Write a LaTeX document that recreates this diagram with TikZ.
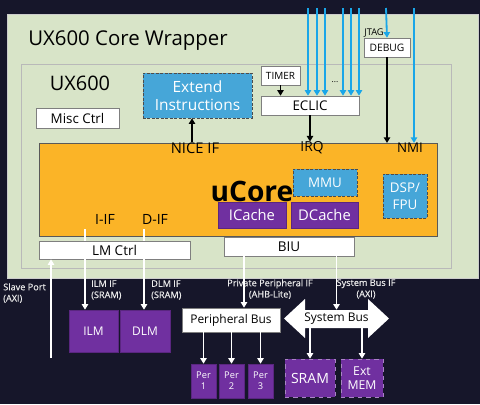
\documentclass[tikz,border=0pt]{standalone}
\usepackage{fontspec}
\setmainfont{Open Sans}
\newfontfamily\uxnotefont{Open Sans}[FakeBold=0.4]
\usepackage{tikz}
\usetikzlibrary{arrows.meta, calc}
\definecolor{uxnavy}{HTML}{16162A}
\definecolor{uxgreen}{HTML}{D8E4C8}
\definecolor{uxorange}{HTML}{FBB427}
\definecolor{uxpurple}{HTML}{7030A0}
\definecolor{uxblue}{HTML}{46A6D8}
\definecolor{uxcyan}{HTML}{1AA6E8}
\definecolor{uxgray}{HTML}{7F7F7F}
\newcommand{\uxfont}[2]{\fontsize{#1}{#2}\selectfont}

\begin{document}
\begin{tikzpicture}[
    x=0.025cm, y=-0.025cm,
    whitebox/.style={draw=uxgray, fill=white, text=black, inner sep=0pt},
    purplebox/.style={draw=uxpurple!80!black, fill=uxpurple, text=white, inner sep=0pt, align=center},
    extbox/.style={draw=uxgray!60!black, dash pattern=on 2pt off 1.2pt, fill=uxblue, text=white, inner sep=0pt, align=center},
    lbl/.style={inner sep=0pt, text=black},
    note/.style={inner sep=0pt, text=white!92!black, font=\uxnotefont\uxfont{6.5}{8}},
    barrow/.style={-{Triangle[width=4.5pt,length=4pt]}, line width=1.3pt, black},
    carrow/.style={-{Triangle[width=4.5pt,length=4pt]}, line width=1.3pt, uxcyan},
    wline/.style={white, line width=1pt},
    warrow/.style={wline, -{Triangle[width=4.5pt,length=4pt]}}
]
\fill[uxnavy] (0,0) rectangle (480,404);
\useasboundingbox (0,0) rectangle (480,404);

\node[draw=gray!40, fill=uxgreen, minimum width=11.775cm, minimum height=6.6cm, inner sep=0pt] (wrapper) at (242.5,146) {};
\node[lbl, font=\uxfont{14.5}{16}, anchor=west] (wraptitle) at (28,41) {UX600 Core Wrapper};
\node[draw=gray!55, minimum width=10.75cm, minimum height=5.1cm, inner sep=0pt] (ux) at (236,166) {};
\node[lbl, font=\uxfont{14.2}{16}] (uxtitle) at (80,83) {UX600};
\node[whitebox, minimum width=2.075cm, minimum height=0.5cm, font=\uxfont{9.5}{10}] (misc) at (77.5,118) {Misc Ctrl};
\node[extbox, minimum width=2.725cm, minimum height=1.125cm, font=\uxfont{11}{12.5}] (ext) at (197.5,95.5) {Extend\\Instructions};
\node[whitebox, minimum width=0.975cm, minimum height=0.475cm, font=\uxfont{7.1}{8}] (timer) at (280.5,75.5) {TIMER};
\node[whitebox, minimum width=2.45cm, minimum height=0.475cm, font=\uxfont{9.5}{11}] (eclic) at (310,105.5) {ECLIC};
\node[whitebox, minimum width=1.15cm, minimum height=0.475cm, font=\uxfont{7.3}{8}] (debug) at (387,47.5) {DEBUG};
\node[lbl, font=\uxfont{6.6}{7}, anchor=east] (jtag) at (384,33) {JTAG};
\node[lbl, font=\uxfont{6}{6}] (dots) at (335,82) {...};

\node[fill=uxorange, draw=uxgray!70!black, minimum width=9.95cm, minimum height=2.325cm, inner sep=0pt] (core) at (238,189.5) {};
\node[lbl, font=\uxfont{10.5}{11}] (niceif) at (195,148) {NICE IF};
\node[lbl, font=\uxfont{9.8}{11}] (irq) at (312,148) {IRQ};
\node[lbl, font=\uxfont{9.5}{11}] (nmi) at (410,148) {NMI};
\node[extbox, minimum width=1.6cm, minimum height=0.675cm, font=\uxfont{9.5}{10}] (mmu) at (325,182.5) {MMU};
\node[lbl, font=\bfseries\uxfont{20}{22}] (ucore) at (252,191) {uCore};
\node[purplebox, minimum width=1.7cm, minimum height=0.65cm, font=\uxfont{10.5}{11}] (icache) at (252,215) {ICache};
\node[purplebox, minimum width=1.675cm, minimum height=0.65cm, font=\uxfont{10.5}{11}] (dcache) at (324.5,215) {DCache};
\node[extbox, minimum width=1.1cm, minimum height=1.1cm, font=\uxfont{9.5}{12}] (dsp) at (405,196) {DSP/\\FPU};
\node[lbl, font=\uxfont{10}{11}] (iif) at (105,219) {I-IF};
\node[lbl, font=\uxfont{10}{11}] (dif) at (155,219) {D-IF};

\node[whitebox, minimum width=3.775cm, minimum height=0.45cm, font=\uxfont{9.6}{10}] (lmctrl) at (114.5,250) {LM Ctrl};
\node[whitebox, minimum width=3.25cm, minimum height=0.475cm, font=\uxfont{9.6}{10}] (biu) at (289,246.5) {BIU};

\node[note, anchor=north west, align=left] (slave) at (3,283) {Slave Port\\(AXI)};
\node[note, anchor=north west, align=left] (ilmif) at (91,280) {ILM IF\\(SRAM)};
\node[note, anchor=north west, align=left] (dlmif) at (151,280) {DLM IF\\(SRAM)};
\node[note, anchor=north, align=center] (ppif) at (270,279) {Private Peripheral IF\\(AHB-Lite)};
\node[note, anchor=north, align=center] (sbif) at (366,279) {System Bus IF\\(AXI)};

\node[purplebox, minimum width=1.225cm, minimum height=1.05cm, font=\uxfont{8.5}{9}] (ilm) at (93.5,331) {ILM};
\node[purplebox, minimum width=1.25cm, minimum height=1.05cm, font=\uxfont{8.5}{9}] (dlm) at (145,331) {DLM};
\node[whitebox, minimum width=2.45cm, minimum height=0.6cm, font=\uxfont{8.5}{9}] (pbus) at (231,320) {Peripheral Bus};
\fill[white] (284,318.5) -- (305,299) -- (305,310) -- (368,310) -- (368,299) -- (389,318.5)
    -- (368,338) -- (368,328) -- (305,328) -- (305,338) -- cycle;
\node[lbl, minimum width=1.575cm, minimum height=0.45cm, font=\uxfont{8.5}{9}] (sysbus) at (336.5,319) {System Bus};

\node[purplebox, minimum width=0.625cm, minimum height=0.85cm, font=\uxfont{6.6}{8}] (per1) at (203.5,381) {Per\\1};
\node[purplebox, minimum width=0.625cm, minimum height=0.85cm, font=\uxfont{6.6}{8}] (per2) at (231.5,381) {Per\\2};
\node[purplebox, minimum width=0.625cm, minimum height=0.85cm, font=\uxfont{6.6}{8}] (per3) at (260.5,381) {Per\\3};
\node[purplebox, draw=uxpurple!60!white, dashed, minimum width=1.25cm, minimum height=0.95cm, font=\uxfont{10}{11}] (sram) at (310,378) {SRAM};
\node[purplebox, draw=uxpurple!60!white, dashed, minimum width=1.05cm, minimum height=0.95cm, font=\uxfont{8.7}{10}] (extmem) at (362,378) {Ext\\MEM};

\foreach \x [count=\i] in {308,317,325,343,351,359} {
    \coordinate (irqin\i) at (\x,8);
    \draw[carrow] (irqin\i) -- (irqin\i |- eclic.north);
}
\coordinate (jtagin) at (386,8);
\coordinate (nmiin) at (414,8);
\draw[carrow] (jtagin) -- (debug.north);
\draw[carrow] (nmiin) -- (nmiin |- nmi.north);
\draw[barrow] (timer) -- (timer |- eclic.north);
\draw[barrow] (eclic.south) -- (eclic.south |- irq.north);
\draw[barrow] (debug.south) -- (debug.south |- nmi.north);
\draw[barrow] (niceif.north -| 192,0) -- (ext.south -| 192,0);

\coordinate (iport) at (85,229);
\coordinate (dport) at (144,229);
\coordinate (slvin) at (51,358);
\coordinate (pbusin) at ([xshift=0.325cm]pbus.north);
\draw[wline] (iport) -- (iport |- lmctrl.north);
\draw[wline] (dport) -- (dport |- lmctrl.north);
\draw[warrow] (iport |- lmctrl.south) -- (iport |- ilm.north);
\draw[warrow] (dport |- lmctrl.south) -- (dport |- dlm.north);
\draw[warrow] (slvin) -- (slvin |- lmctrl.south);
\draw[warrow] (pbusin |- biu.south) -- (pbusin);
\draw[warrow] (sysbus.north |- biu.south) -- (sysbus.north);
\foreach \p in {per1,per2,per3}
    \draw[warrow] (pbus.south -| \p.north) -- (\p.north);
\draw[warrow] (sysbus.south -| sram.north) -- (sram.north);
\draw[warrow] (sysbus.south -| extmem.north) -- (extmem.north);
\end{tikzpicture}
\end{document}
